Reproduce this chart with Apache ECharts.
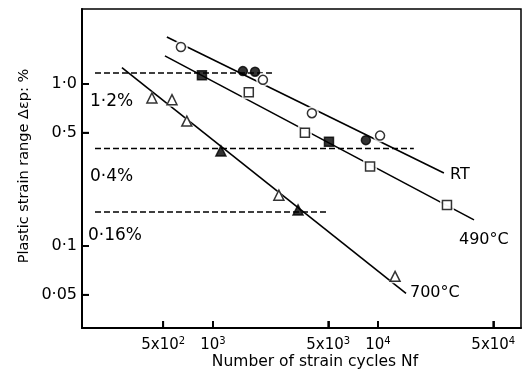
<!DOCTYPE html>
<html>
<head>
<meta charset="utf-8">
<script src="https://cdn.jsdelivr.net/npm/echarts@6/dist/echarts.min.js"></script>
<style>
  html, body { margin: 0; padding: 0; background: #fff; }
  #chart { width: 524px; height: 374px; }
</style>
</head>
<body>
<div id="chart"></div>
<script>
// Low-cycle fatigue data: plastic strain range (%) vs cycles to failure
const xTicks = [500, 1000, 5000, 10000, 50000];
const xTickText = ['5x10{sup|2}', '10{sup|3}', '5x10{sup|3}', '10{sup|4}', '5x10{sup|4}'];
const yTicks = [0.05, 0.1, 0.5, 1.0];
const yTickText = ['0·05', '0·1', '0·5', '1·0'];

// Room temperature
const rtOpen = [[640, 1.69], [2010, 1.06], [3980, 0.66], [10300, 0.48]];
const rtFilled = [[1520, 1.20], [1800, 1.19], [8450, 0.45]];
const rtLine = [[526, 1.95], [25100, 0.282]];

// 490 °C
const t490Open = [[1650, 0.89], [3610, 0.50], [8960, 0.31], [26200, 0.179]];
const t490Filled = [[858, 1.13], [5050, 0.44]];
const t490Line = [[512, 1.49], [38200, 0.145]];

// 700 °C
const t700Open = [[427, 0.82], [565, 0.80], [695, 0.59], [2510, 0.206], [12700, 0.065]];
const t700Filled = [[1118, 0.386], [3280, 0.167]];
const t700Line = [[281, 1.26], [14800, 0.051]];

// Constant total strain range levels
const levelNames = ['1·2%', '0·4%', '0·16%'];
const levelLines = [
  [[193, 1.17], [2280, 1.17]],
  [[193, 0.40], [16500, 0.40]],
  [[193, 0.162], [5050, 0.162]]
];

const X_MIN = 161, X_MAX = 73600;
const Y_MIN = 0.0312, Y_MAX = 2.9;
const TICK_LEN = 7;

const INK = '#000';
const FONT = 'DejaVu Sans';
const chart = echarts.init(document.getElementById('chart'));

function fitLine(data) {
  return {
    type: 'line', data: data, symbol: 'none', z: 2, silent: true,
    lineStyle: { color: INK, width: 1.6 }
  };
}
function levelLine(data) {
  return {
    type: 'line', data: data, symbol: 'none', z: 2, silent: true,
    lineStyle: { color: INK, width: 1.5, type: [6, 3] }
  };
}
function halo(data, symbol) {
  return {
    type: 'scatter', data: data, symbol: symbol, symbolSize: 14, z: 3, silent: true,
    itemStyle: { color: '#fff' }
  };
}
function marks(data, symbol, filled, size) {
  return {
    type: 'scatter', data: data, symbol: symbol, symbolSize: size, z: 4, silent: true,
    itemStyle: { color: filled ? INK : '#fff', borderColor: INK, borderWidth: 1.5 }
  };
}
function text(str, x, y, size, extra) {
  return Object.assign({
    type: 'text', x: x, y: y,
    style: { text: str, font: size + 'px "DejaVu Sans"', fill: INK, verticalAlign: 'middle' }
  }, extra || {});
}
function pickLabel(ticks, names) {
  return function (v) {
    const i = ticks.findIndex(t => Math.abs(t - v) / t < 1e-6);
    return i >= 0 ? names[i] : '';
  };
}

chart.setOption({
  animation: false,
  grid: {
    left: 82, right: 3, top: 9, bottom: 46,
    show: true, borderColor: INK, borderWidth: 1.5
  },
  xAxis: {
    type: 'log', min: X_MIN, max: X_MAX,
    splitLine: { show: false },
    axisLine: { show: true, lineStyle: { color: INK, width: 2 } },
    axisTick: { show: true, inside: true, length: TICK_LEN, customValues: xTicks, lineStyle: { color: INK, width: 1.8 } },
    axisLabel: {
      show: true,
      customValues: xTicks,
      margin: 8,
      color: INK, fontFamily: FONT, fontSize: 15,
      formatter: pickLabel(xTicks, xTickText),
      rich: { sup: { fontSize: 10, fontFamily: FONT, color: INK, padding: [0, 0, 9, 0] } }
    }
  },
  yAxis: {
    type: 'log', min: Y_MIN, max: Y_MAX,
    splitLine: { show: false },
    axisLine: { show: true, lineStyle: { color: INK, width: 2 } },
    axisTick: { show: true, inside: true, length: TICK_LEN, customValues: yTicks, lineStyle: { color: INK, width: 1.8 } },
    axisLabel: {
      show: true,
      customValues: yTicks,
      margin: 5,
      color: INK, fontFamily: FONT, fontSize: 16,
      formatter: pickLabel(yTicks, yTickText)
    }
  },
  series: [
    fitLine(rtLine), fitLine(t490Line), fitLine(t700Line),
    levelLine(levelLines[0]), levelLine(levelLines[1]), levelLine(levelLines[2]),
    halo(rtOpen, 'circle'), halo(t490Open, 'rect'), halo(t700Open, 'triangle'),
    marks(rtOpen, 'circle', false, 9),
    marks(rtFilled, 'circle', true, 9),
    marks(t490Open, 'rect', false, 9),
    marks(t490Filled, 'rect', true, 9),
    marks(t700Open, 'triangle', false, 10),
    marks(t700Filled, 'triangle', true, 10)
  ]
});

// Text annotations plus inward tick marks positioned through the axis scales
const graphics = [
  text('Number of strain cycles Nf', 315, 362, 15.5, { style: { text: 'Number of strain cycles Nf', font: '15.5px "DejaVu Sans"', fill: INK, align: 'center', verticalAlign: 'middle' } }),
  text('Plastic strain range Δεp: %', 24, 166, 14.5, { rotation: Math.PI / 2, style: { text: 'Plastic strain range Δεp: %', font: '14.5px "DejaVu Sans"', fill: INK, align: 'center', verticalAlign: 'middle' } }),
  text(levelNames[0], 90, 102, 17),
  text(levelNames[1], 90, 177, 17),
  text(levelNames[2], 88, 236, 17),
  text('RT', 450, 175, 16),
  text('490°C', 459, 240, 16),
  text('700°C', 410, 293, 16)
];
xTicks.forEach(function (v) {
  const p = chart.convertToPixel({ gridIndex: 0 }, [v, Y_MIN]);
  graphics.push({ type: 'line', z: 100, shape: { x1: p[0], y1: p[1], x2: p[0], y2: p[1] - TICK_LEN }, style: { stroke: INK, lineWidth: 1.8 } });
});
yTicks.forEach(function (v) {
  const p = chart.convertToPixel({ gridIndex: 0 }, [X_MIN, v]);
  graphics.push({ type: 'line', z: 100, shape: { x1: p[0], y1: p[1], x2: p[0] + TICK_LEN, y2: p[1] }, style: { stroke: INK, lineWidth: 1.8 } });
});
chart.setOption({ graphic: graphics });
</script>
</body>
</html>
